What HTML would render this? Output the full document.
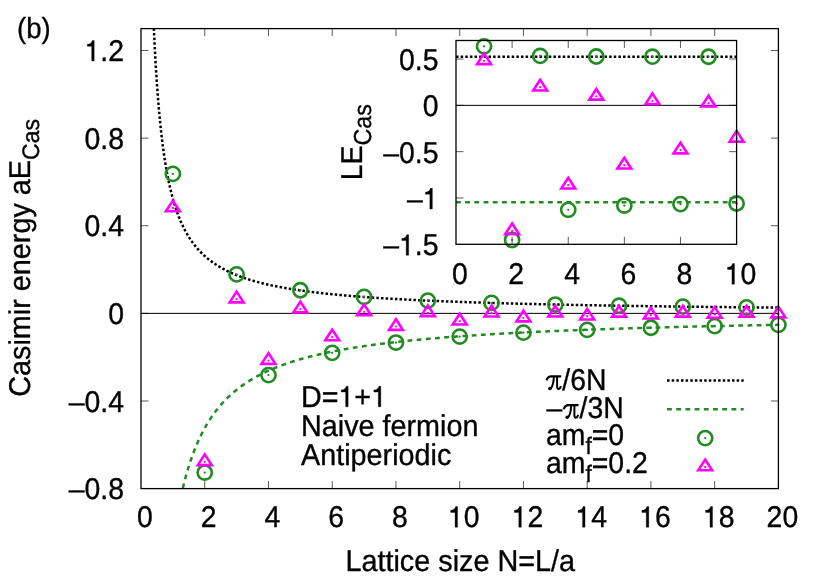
<!DOCTYPE html>
<html><head><meta charset="utf-8"><title>Casimir energy</title>
<style>
html,body{margin:0;padding:0;background:#fff;}
body{width:830px;height:581px;overflow:hidden;position:relative;font-family:"Liberation Sans",sans-serif;}
</style></head><body>
<svg width="830" height="581" viewBox="0 0 830 581" style="position:absolute;left:0;top:0">
<rect width="830" height="581" fill="#fff"/>
<defs>
<clipPath id="cm"><rect x="141.0" y="28.6" width="637.4" height="460.0"/></clipPath>
<clipPath id="ci"><rect x="456.0" y="40.5" width="280.6" height="203.8"/></clipPath>
</defs>
<path d="M204.74 488.6v-7.5M204.74 28.6v7.5M268.48 488.6v-7.5M268.48 28.6v7.5M332.22 488.6v-7.5M332.22 28.6v7.5M395.96 488.6v-7.5M395.96 28.6v7.5M459.70 488.6v-7.5M459.70 28.6v7.5M523.44 488.6v-7.5M523.44 28.6v7.5M587.18 488.6v-7.5M587.18 28.6v7.5M650.92 488.6v-7.5M650.92 28.6v7.5M714.66 488.6v-7.5M714.66 28.6v7.5M141.0 50.50h7.5M778.4 50.50h-7.5M141.0 138.12h7.5M778.4 138.12h-7.5M141.0 225.74h7.5M778.4 225.74h-7.5M141.0 313.36h7.5M778.4 313.36h-7.5M141.0 400.98h7.5M778.4 400.98h-7.5" stroke="#000" stroke-width="0.65" fill="none"/>
<path d="M141.0 313.36H778.4" stroke="#000" stroke-width="1.0" fill="none"/>
<g clip-path="url(#cm)">
<path d="M151.59 -31.87L152.64 -0.63L153.69 25.43L154.75 47.49L155.80 66.41L156.86 82.82L157.91 97.18L158.96 109.86L160.02 121.14L161.07 131.23L162.12 140.31L163.18 148.53L164.23 156.01L165.28 162.83L166.34 169.09L167.39 174.85L168.44 180.17L169.50 185.09L170.55 189.67L171.60 193.92L172.66 197.90L173.71 201.62L174.76 205.10L175.82 208.38L176.87 211.46L177.92 214.37L178.98 217.11L180.03 219.71L181.08 222.17L182.14 224.51L183.19 226.73L184.25 228.84L185.30 230.85L186.35 232.76L187.41 234.59L188.46 236.34L189.51 238.02L190.57 239.62L191.62 241.15L192.67 242.62L193.73 244.04L194.78 245.39L195.83 246.70L196.89 247.96L197.94 249.17L198.99 250.33L200.05 251.46L201.10 252.54L202.15 253.59L203.21 254.60L204.26 255.58L205.31 256.53L206.37 257.44L207.42 258.33L208.48 259.19L209.53 260.02L210.58 260.83L211.64 261.61L212.69 262.37L213.74 263.11L214.80 263.83L215.85 264.53L216.90 265.20L217.96 265.86L219.01 266.51L220.06 267.13L221.12 267.74L222.17 268.33L223.22 268.91L224.28 269.47L225.33 270.02L226.38 270.55L227.44 271.07L228.49 271.58L229.54 272.08L230.60 272.57L231.65 273.04L232.70 273.50L233.76 273.96L234.81 274.40L235.87 274.83L236.92 275.25L237.97 275.67L239.03 276.07L240.08 276.47L241.13 276.86L242.19 277.24L243.24 277.61L244.29 277.97L245.35 278.33L246.40 278.68L247.45 279.03L248.51 279.36L249.56 279.69L250.61 280.02L251.67 280.33L252.72 280.64L253.77 280.95L254.83 281.25L255.88 281.54L256.93 281.83L257.99 282.12L259.04 282.40L260.09 282.67L261.15 282.94L262.20 283.20L263.26 283.46L264.31 283.72L265.36 283.97L266.42 284.22L267.47 284.46L268.52 284.70L269.58 284.93L270.63 285.16L271.68 285.39L272.74 285.62L273.79 285.84L274.84 286.05L275.90 286.27L276.95 286.48L278.00 286.68L279.06 286.89L280.11 287.09L281.16 287.28L282.22 287.48L283.27 287.67L284.32 287.86L285.38 288.04L286.43 288.23L287.48 288.41L288.54 288.59L289.59 288.76L290.65 288.94L291.70 289.11L292.75 289.27L293.81 289.44L294.86 289.60L295.91 289.77L296.97 289.93L298.02 290.08L299.07 290.24L300.13 290.39L301.18 290.54L302.23 290.69L303.29 290.84L304.34 290.98L305.39 291.13L306.45 291.27L307.50 291.41L308.55 291.55L309.61 291.68L310.66 291.82L311.71 291.95L312.77 292.08L313.82 292.21L314.88 292.34L315.93 292.47L316.98 292.59L318.04 292.71L319.09 292.84L320.14 292.96L321.20 293.08L322.25 293.19L323.30 293.31L324.36 293.43L325.41 293.54L326.46 293.65L327.52 293.76L328.57 293.87L329.62 293.98L330.68 294.09L331.73 294.20L332.78 294.30L333.84 294.41L334.89 294.51L335.94 294.61L337.00 294.71L338.05 294.81L339.10 294.91L340.16 295.01L341.21 295.10L342.27 295.20L343.32 295.30L344.37 295.39L345.43 295.48L346.48 295.57L347.53 295.66L348.59 295.75L349.64 295.84L350.69 295.93L351.75 296.02L352.80 296.10L353.85 296.19L354.91 296.27L355.96 296.36L357.01 296.44L358.07 296.52L359.12 296.60L360.17 296.68L361.23 296.76L362.28 296.84L363.33 296.92L364.39 297.00L365.44 297.08L366.49 297.15L367.55 297.23L368.60 297.30L369.66 297.38L370.71 297.45L371.76 297.52L372.82 297.59L373.87 297.67L374.92 297.74L375.98 297.81L377.03 297.88L378.08 297.94L379.14 298.01L380.19 298.08L381.24 298.15L382.30 298.21L383.35 298.28L384.40 298.34L385.46 298.41L386.51 298.47L387.56 298.54L388.62 298.60L389.67 298.66L390.72 298.72L391.78 298.79L392.83 298.85L393.88 298.91L394.94 298.97L395.99 299.03L397.05 299.09L398.10 299.14L399.15 299.20L400.21 299.26L401.26 299.32L402.31 299.37L403.37 299.43L404.42 299.49L405.47 299.54L406.53 299.60L407.58 299.65L408.63 299.70L409.69 299.76L410.74 299.81L411.79 299.86L412.85 299.92L413.90 299.97L414.95 300.02L416.01 300.07L417.06 300.12L418.11 300.17L419.17 300.22L420.22 300.27L421.28 300.32L422.33 300.37L423.38 300.42L424.44 300.47L425.49 300.51L426.54 300.56L427.60 300.61L428.65 300.65L429.70 300.70L430.76 300.75L431.81 300.79L432.86 300.84L433.92 300.88L434.97 300.93L436.02 300.97L437.08 301.02L438.13 301.06L439.18 301.10L440.24 301.15L441.29 301.19L442.34 301.23L443.40 301.27L444.45 301.32L445.50 301.36L446.56 301.40L447.61 301.44L448.67 301.48L449.72 301.52L450.77 301.56L451.83 301.60L452.88 301.64L453.93 301.68L454.99 301.72L456.04 301.76L457.09 301.80L458.15 301.84L459.20 301.87L460.25 301.91L461.31 301.95L462.36 301.99L463.41 302.02L464.47 302.06L465.52 302.10L466.57 302.13L467.63 302.17L468.68 302.21L469.73 302.24L470.79 302.28L471.84 302.31L472.89 302.35L473.95 302.38L475.00 302.42L476.06 302.45L477.11 302.49L478.16 302.52L479.22 302.55L480.27 302.59L481.32 302.62L482.38 302.65L483.43 302.69L484.48 302.72L485.54 302.75L486.59 302.79L487.64 302.82L488.70 302.85L489.75 302.88L490.80 302.91L491.86 302.94L492.91 302.97L493.96 303.01L495.02 303.04L496.07 303.07L497.12 303.10L498.18 303.13L499.23 303.16L500.29 303.19L501.34 303.22L502.39 303.25L503.45 303.28L504.50 303.31L505.55 303.34L506.61 303.36L507.66 303.39L508.71 303.42L509.77 303.45L510.82 303.48L511.87 303.51L512.93 303.53L513.98 303.56L515.03 303.59L516.09 303.62L517.14 303.64L518.19 303.67L519.25 303.70L520.30 303.73L521.35 303.75L522.41 303.78L523.46 303.80L524.51 303.83L525.57 303.86L526.62 303.88L527.68 303.91L528.73 303.93L529.78 303.96L530.84 303.99L531.89 304.01L532.94 304.04L534.00 304.06L535.05 304.09L536.10 304.11L537.16 304.14L538.21 304.16L539.26 304.18L540.32 304.21L541.37 304.23L542.42 304.26L543.48 304.28L544.53 304.30L545.58 304.33L546.64 304.35L547.69 304.37L548.74 304.40L549.80 304.42L550.85 304.44L551.90 304.47L552.96 304.49L554.01 304.51L555.07 304.53L556.12 304.56L557.17 304.58L558.23 304.60L559.28 304.62L560.33 304.65L561.39 304.67L562.44 304.69L563.49 304.71L564.55 304.73L565.60 304.75L566.65 304.77L567.71 304.80L568.76 304.82L569.81 304.84L570.87 304.86L571.92 304.88L572.97 304.90L574.03 304.92L575.08 304.94L576.13 304.96L577.19 304.98L578.24 305.00L579.29 305.02L580.35 305.04L581.40 305.06L582.46 305.08L583.51 305.10L584.56 305.12L585.62 305.14L586.67 305.16L587.72 305.18L588.78 305.20L589.83 305.22L590.88 305.24L591.94 305.26L592.99 305.27L594.04 305.29L595.10 305.31L596.15 305.33L597.20 305.35L598.26 305.37L599.31 305.39L600.36 305.40L601.42 305.42L602.47 305.44L603.52 305.46L604.58 305.48L605.63 305.49L606.69 305.51L607.74 305.53L608.79 305.55L609.85 305.57L610.90 305.58L611.95 305.60L613.01 305.62L614.06 305.64L615.11 305.65L616.17 305.67L617.22 305.69L618.27 305.70L619.33 305.72L620.38 305.74L621.43 305.75L622.49 305.77L623.54 305.79L624.59 305.80L625.65 305.82L626.70 305.84L627.75 305.85L628.81 305.87L629.86 305.88L630.91 305.90L631.97 305.92L633.02 305.93L634.08 305.95L635.13 305.96L636.18 305.98L637.24 306.00L638.29 306.01L639.34 306.03L640.40 306.04L641.45 306.06L642.50 306.07L643.56 306.09L644.61 306.10L645.66 306.12L646.72 306.13L647.77 306.15L648.82 306.16L649.88 306.18L650.93 306.19L651.98 306.21L653.04 306.22L654.09 306.24L655.14 306.25L656.20 306.27L657.25 306.28L658.30 306.30L659.36 306.31L660.41 306.32L661.47 306.34L662.52 306.35L663.57 306.37L664.63 306.38L665.68 306.40L666.73 306.41L667.79 306.42L668.84 306.44L669.89 306.45L670.95 306.46L672.00 306.48L673.05 306.49L674.11 306.51L675.16 306.52L676.21 306.53L677.27 306.55L678.32 306.56L679.37 306.57L680.43 306.59L681.48 306.60L682.53 306.61L683.59 306.63L684.64 306.64L685.70 306.65L686.75 306.66L687.80 306.68L688.86 306.69L689.91 306.70L690.96 306.72L692.02 306.73L693.07 306.74L694.12 306.75L695.18 306.77L696.23 306.78L697.28 306.79L698.34 306.80L699.39 306.82L700.44 306.83L701.50 306.84L702.55 306.85L703.60 306.86L704.66 306.88L705.71 306.89L706.76 306.90L707.82 306.91L708.87 306.93L709.92 306.94L710.98 306.95L712.03 306.96L713.09 306.97L714.14 306.98L715.19 307.00L716.25 307.01L717.30 307.02L718.35 307.03L719.41 307.04L720.46 307.05L721.51 307.07L722.57 307.08L723.62 307.09L724.67 307.10L725.73 307.11L726.78 307.12L727.83 307.13L728.89 307.14L729.94 307.16L730.99 307.17L732.05 307.18L733.10 307.19L734.15 307.20L735.21 307.21L736.26 307.22L737.31 307.23L738.37 307.24L739.42 307.25L740.48 307.26L741.53 307.28L742.58 307.29L743.64 307.30L744.69 307.31L745.74 307.32L746.80 307.33L747.85 307.34L748.90 307.35L749.96 307.36L751.01 307.37L752.06 307.38L753.12 307.39L754.17 307.40L755.22 307.41L756.28 307.42L757.33 307.43L758.38 307.44L759.44 307.45L760.49 307.46L761.54 307.47L762.60 307.48L763.65 307.49L764.70 307.50L765.76 307.51L766.81 307.52L767.87 307.53L768.92 307.54L769.97 307.55L771.03 307.56L772.08 307.57L773.13 307.58L774.19 307.59L775.24 307.60L776.29 307.61L777.35 307.62L778.40 307.63" fill="none" stroke="#000" stroke-width="2.5" stroke-dasharray="2.5 2.14"/>
<path d="M169.50 569.90L170.55 560.76L171.60 552.24L172.66 544.29L173.71 536.85L174.76 529.88L175.82 523.33L176.87 517.16L177.92 511.35L178.98 505.86L180.03 500.66L181.08 495.74L182.14 491.07L183.19 486.63L184.25 482.41L185.30 478.39L186.35 474.56L187.41 470.90L188.46 467.40L189.51 464.06L190.57 460.85L191.62 457.78L192.67 454.84L193.73 452.01L194.78 449.30L195.83 446.68L196.89 444.17L197.94 441.75L198.99 439.42L200.05 437.17L201.10 435.00L202.15 432.90L203.21 430.88L204.26 428.92L205.31 427.03L206.37 425.20L207.42 423.42L208.48 421.71L209.53 420.04L210.58 418.43L211.64 416.86L212.69 415.34L213.74 413.86L214.80 412.43L215.85 411.03L216.90 409.68L217.96 408.36L219.01 407.08L220.06 405.83L221.12 404.61L222.17 403.43L223.22 402.27L224.28 401.15L225.33 400.05L226.38 398.98L227.44 397.94L228.49 396.92L229.54 395.93L230.60 394.95L231.65 394.01L232.70 393.08L233.76 392.17L234.81 391.29L235.87 390.42L236.92 389.58L237.97 388.75L239.03 387.94L240.08 387.15L241.13 386.37L242.19 385.61L243.24 384.87L244.29 384.14L245.35 383.42L246.40 382.72L247.45 382.04L248.51 381.36L249.56 380.70L250.61 380.06L251.67 379.42L252.72 378.80L253.77 378.19L254.83 377.59L255.88 377.00L256.93 376.42L257.99 375.85L259.04 375.29L260.09 374.75L261.15 374.21L262.20 373.68L263.26 373.16L264.31 372.65L265.36 372.15L266.42 371.65L267.47 371.17L268.52 370.69L269.58 370.22L270.63 369.76L271.68 369.30L272.74 368.86L273.79 368.42L274.84 367.98L275.90 367.56L276.95 367.14L278.00 366.72L279.06 366.31L280.11 365.91L281.16 365.52L282.22 365.13L283.27 364.75L284.32 364.37L285.38 364.00L286.43 363.63L287.48 363.27L288.54 362.91L289.59 362.56L290.65 362.21L291.70 361.87L292.75 361.54L293.81 361.20L294.86 360.88L295.91 360.55L296.97 360.23L298.02 359.92L299.07 359.61L300.13 359.30L301.18 359.00L302.23 358.70L303.29 358.41L304.34 358.12L305.39 357.83L306.45 357.55L307.50 357.27L308.55 356.99L309.61 356.72L310.66 356.45L311.71 356.19L312.77 355.92L313.82 355.66L314.88 355.41L315.93 355.15L316.98 354.90L318.04 354.66L319.09 354.41L320.14 354.17L321.20 353.93L322.25 353.70L323.30 353.46L324.36 353.23L325.41 353.00L326.46 352.78L327.52 352.56L328.57 352.34L329.62 352.12L330.68 351.90L331.73 351.69L332.78 351.48L333.84 351.27L334.89 351.07L335.94 350.86L337.00 350.66L338.05 350.46L339.10 350.26L340.16 350.07L341.21 349.88L342.27 349.68L343.32 349.50L344.37 349.31L345.43 349.12L346.48 348.94L347.53 348.76L348.59 348.58L349.64 348.40L350.69 348.22L351.75 348.05L352.80 347.88L353.85 347.71L354.91 347.54L355.96 347.37L357.01 347.20L358.07 347.04L359.12 346.88L360.17 346.72L361.23 346.56L362.28 346.40L363.33 346.24L364.39 346.09L365.44 345.93L366.49 345.78L367.55 345.63L368.60 345.48L369.66 345.33L370.71 345.19L371.76 345.04L372.82 344.90L373.87 344.76L374.92 344.61L375.98 344.47L377.03 344.33L378.08 344.20L379.14 344.06L380.19 343.93L381.24 343.79L382.30 343.66L383.35 343.53L384.40 343.40L385.46 343.27L386.51 343.14L387.56 343.01L388.62 342.89L389.67 342.76L390.72 342.64L391.78 342.51L392.83 342.39L393.88 342.27L394.94 342.15L395.99 342.03L397.05 341.91L398.10 341.80L399.15 341.68L400.21 341.57L401.26 341.45L402.31 341.34L403.37 341.23L404.42 341.11L405.47 341.00L406.53 340.89L407.58 340.79L408.63 340.68L409.69 340.57L410.74 340.46L411.79 340.36L412.85 340.25L413.90 340.15L414.95 340.05L416.01 339.94L417.06 339.84L418.11 339.74L419.17 339.64L420.22 339.54L421.28 339.45L422.33 339.35L423.38 339.25L424.44 339.15L425.49 339.06L426.54 338.96L427.60 338.87L428.65 338.78L429.70 338.68L430.76 338.59L431.81 338.50L432.86 338.41L433.92 338.32L434.97 338.23L436.02 338.14L437.08 338.05L438.13 337.97L439.18 337.88L440.24 337.79L441.29 337.71L442.34 337.62L443.40 337.54L444.45 337.45L445.50 337.37L446.56 337.29L447.61 337.20L448.67 337.12L449.72 337.04L450.77 336.96L451.83 336.88L452.88 336.80L453.93 336.72L454.99 336.64L456.04 336.57L457.09 336.49L458.15 336.41L459.20 336.34L460.25 336.26L461.31 336.19L462.36 336.11L463.41 336.04L464.47 335.96L465.52 335.89L466.57 335.82L467.63 335.74L468.68 335.67L469.73 335.60L470.79 335.53L471.84 335.46L472.89 335.39L473.95 335.32L475.00 335.25L476.06 335.18L477.11 335.11L478.16 335.04L479.22 334.98L480.27 334.91L481.32 334.84L482.38 334.78L483.43 334.71L484.48 334.65L485.54 334.58L486.59 334.52L487.64 334.45L488.70 334.39L489.75 334.32L490.80 334.26L491.86 334.20L492.91 334.14L493.96 334.07L495.02 334.01L496.07 333.95L497.12 333.89L498.18 333.83L499.23 333.77L500.29 333.71L501.34 333.65L502.39 333.59L503.45 333.53L504.50 333.47L505.55 333.42L506.61 333.36L507.66 333.30L508.71 333.24L509.77 333.19L510.82 333.13L511.87 333.07L512.93 333.02L513.98 332.96L515.03 332.91L516.09 332.85L517.14 332.80L518.19 332.74L519.25 332.69L520.30 332.64L521.35 332.58L522.41 332.53L523.46 332.48L524.51 332.42L525.57 332.37L526.62 332.32L527.68 332.27L528.73 332.22L529.78 332.17L530.84 332.11L531.89 332.06L532.94 332.01L534.00 331.96L535.05 331.91L536.10 331.86L537.16 331.82L538.21 331.77L539.26 331.72L540.32 331.67L541.37 331.62L542.42 331.57L543.48 331.53L544.53 331.48L545.58 331.43L546.64 331.38L547.69 331.34L548.74 331.29L549.80 331.24L550.85 331.20L551.90 331.15L552.96 331.11L554.01 331.06L555.07 331.02L556.12 330.97L557.17 330.93L558.23 330.88L559.28 330.84L560.33 330.80L561.39 330.75L562.44 330.71L563.49 330.67L564.55 330.62L565.60 330.58L566.65 330.54L567.71 330.49L568.76 330.45L569.81 330.41L570.87 330.37L571.92 330.33L572.97 330.29L574.03 330.24L575.08 330.20L576.13 330.16L577.19 330.12L578.24 330.08L579.29 330.04L580.35 330.00L581.40 329.96L582.46 329.92L583.51 329.88L584.56 329.84L585.62 329.80L586.67 329.77L587.72 329.73L588.78 329.69L589.83 329.65L590.88 329.61L591.94 329.57L592.99 329.54L594.04 329.50L595.10 329.46L596.15 329.42L597.20 329.39L598.26 329.35L599.31 329.31L600.36 329.28L601.42 329.24L602.47 329.20L603.52 329.17L604.58 329.13L605.63 329.10L606.69 329.06L607.74 329.02L608.79 328.99L609.85 328.95L610.90 328.92L611.95 328.88L613.01 328.85L614.06 328.82L615.11 328.78L616.17 328.75L617.22 328.71L618.27 328.68L619.33 328.65L620.38 328.61L621.43 328.58L622.49 328.55L623.54 328.51L624.59 328.48L625.65 328.45L626.70 328.41L627.75 328.38L628.81 328.35L629.86 328.32L630.91 328.28L631.97 328.25L633.02 328.22L634.08 328.19L635.13 328.16L636.18 328.13L637.24 328.09L638.29 328.06L639.34 328.03L640.40 328.00L641.45 327.97L642.50 327.94L643.56 327.91L644.61 327.88L645.66 327.85L646.72 327.82L647.77 327.79L648.82 327.76L649.88 327.73L650.93 327.70L651.98 327.67L653.04 327.64L654.09 327.61L655.14 327.58L656.20 327.55L657.25 327.52L658.30 327.49L659.36 327.47L660.41 327.44L661.47 327.41L662.52 327.38L663.57 327.35L664.63 327.32L665.68 327.30L666.73 327.27L667.79 327.24L668.84 327.21L669.89 327.18L670.95 327.16L672.00 327.13L673.05 327.10L674.11 327.07L675.16 327.05L676.21 327.02L677.27 326.99L678.32 326.97L679.37 326.94L680.43 326.91L681.48 326.89L682.53 326.86L683.59 326.84L684.64 326.81L685.70 326.78L686.75 326.76L687.80 326.73L688.86 326.71L689.91 326.68L690.96 326.65L692.02 326.63L693.07 326.60L694.12 326.58L695.18 326.55L696.23 326.53L697.28 326.50L698.34 326.48L699.39 326.45L700.44 326.43L701.50 326.40L702.55 326.38L703.60 326.36L704.66 326.33L705.71 326.31L706.76 326.28L707.82 326.26L708.87 326.24L709.92 326.21L710.98 326.19L712.03 326.16L713.09 326.14L714.14 326.12L715.19 326.09L716.25 326.07L717.30 326.05L718.35 326.02L719.41 326.00L720.46 325.98L721.51 325.96L722.57 325.93L723.62 325.91L724.67 325.89L725.73 325.86L726.78 325.84L727.83 325.82L728.89 325.80L729.94 325.77L730.99 325.75L732.05 325.73L733.10 325.71L734.15 325.69L735.21 325.66L736.26 325.64L737.31 325.62L738.37 325.60L739.42 325.58L740.48 325.56L741.53 325.54L742.58 325.51L743.64 325.49L744.69 325.47L745.74 325.45L746.80 325.43L747.85 325.41L748.90 325.39L749.96 325.37L751.01 325.35L752.06 325.33L753.12 325.30L754.17 325.28L755.22 325.26L756.28 325.24L757.33 325.22L758.38 325.20L759.44 325.18L760.49 325.16L761.54 325.14L762.60 325.12L763.65 325.10L764.70 325.08L765.76 325.06L766.81 325.04L767.87 325.02L768.92 325.00L769.97 324.98L771.03 324.97L772.08 324.95L773.13 324.93L774.19 324.91L775.24 324.89L776.29 324.87L777.35 324.85L778.40 324.83" fill="none" stroke="#228b22" stroke-width="2.5" stroke-dasharray="4.8 4.4"/>
</g>
<circle cx="172.87" cy="173.91" r="7.1" fill="none" stroke="#228b22" stroke-width="2.6"/><circle cx="172.87" cy="173.91" r="1.15" fill="#228b22"/>
<circle cx="204.74" cy="472.56" r="7.1" fill="none" stroke="#228b22" stroke-width="2.6"/><circle cx="204.74" cy="472.56" r="1.15" fill="#228b22"/>
<circle cx="236.61" cy="274.41" r="7.1" fill="none" stroke="#228b22" stroke-width="2.6"/><circle cx="236.61" cy="274.41" r="1.15" fill="#228b22"/>
<circle cx="268.48" cy="375.12" r="7.1" fill="none" stroke="#228b22" stroke-width="2.6"/><circle cx="268.48" cy="375.12" r="1.15" fill="#228b22"/>
<circle cx="300.35" cy="290.27" r="7.1" fill="none" stroke="#228b22" stroke-width="2.6"/><circle cx="300.35" cy="290.27" r="1.15" fill="#228b22"/>
<circle cx="332.22" cy="352.85" r="7.1" fill="none" stroke="#228b22" stroke-width="2.6"/><circle cx="332.22" cy="352.85" r="1.15" fill="#228b22"/>
<circle cx="364.09" cy="296.92" r="7.1" fill="none" stroke="#228b22" stroke-width="2.6"/><circle cx="364.09" cy="296.92" r="1.15" fill="#228b22"/>
<circle cx="395.96" cy="342.56" r="7.1" fill="none" stroke="#228b22" stroke-width="2.6"/><circle cx="395.96" cy="342.56" r="1.15" fill="#228b22"/>
<circle cx="427.83" cy="300.59" r="7.1" fill="none" stroke="#228b22" stroke-width="2.6"/><circle cx="427.83" cy="300.59" r="1.15" fill="#228b22"/>
<circle cx="459.70" cy="336.57" r="7.1" fill="none" stroke="#228b22" stroke-width="2.6"/><circle cx="459.70" cy="336.57" r="1.15" fill="#228b22"/>
<circle cx="491.57" cy="302.92" r="7.1" fill="none" stroke="#228b22" stroke-width="2.6"/><circle cx="491.57" cy="302.92" r="1.15" fill="#228b22"/>
<circle cx="523.44" cy="332.63" r="7.1" fill="none" stroke="#228b22" stroke-width="2.6"/><circle cx="523.44" cy="332.63" r="1.15" fill="#228b22"/>
<circle cx="555.31" cy="304.53" r="7.1" fill="none" stroke="#228b22" stroke-width="2.6"/><circle cx="555.31" cy="304.53" r="1.15" fill="#228b22"/>
<circle cx="587.18" cy="329.84" r="7.1" fill="none" stroke="#228b22" stroke-width="2.6"/><circle cx="587.18" cy="329.84" r="1.15" fill="#228b22"/>
<circle cx="619.05" cy="305.71" r="7.1" fill="none" stroke="#228b22" stroke-width="2.6"/><circle cx="619.05" cy="305.71" r="1.15" fill="#228b22"/>
<circle cx="650.92" cy="327.76" r="7.1" fill="none" stroke="#228b22" stroke-width="2.6"/><circle cx="650.92" cy="327.76" r="1.15" fill="#228b22"/>
<circle cx="682.79" cy="306.61" r="7.1" fill="none" stroke="#228b22" stroke-width="2.6"/><circle cx="682.79" cy="306.61" r="1.15" fill="#228b22"/>
<circle cx="714.66" cy="326.15" r="7.1" fill="none" stroke="#228b22" stroke-width="2.6"/><circle cx="714.66" cy="326.15" r="1.15" fill="#228b22"/>
<circle cx="746.53" cy="307.32" r="7.1" fill="none" stroke="#228b22" stroke-width="2.6"/><circle cx="746.53" cy="307.32" r="1.15" fill="#228b22"/>
<circle cx="778.40" cy="324.86" r="7.1" fill="none" stroke="#228b22" stroke-width="2.6"/><circle cx="778.40" cy="324.86" r="1.15" fill="#228b22"/>
<path d="M172.87 200.60L165.92 211.30L179.82 211.30Z" fill="none" stroke="#ff00ff" stroke-width="2.6" stroke-linejoin="miter"/><circle cx="172.87" cy="208.00" r="1.15" fill="#ff00ff"/>
<path d="M204.74 454.40L197.79 465.10L211.69 465.10Z" fill="none" stroke="#ff00ff" stroke-width="2.6" stroke-linejoin="miter"/><circle cx="204.74" cy="461.80" r="1.15" fill="#ff00ff"/>
<path d="M236.61 291.65L229.66 302.35L243.56 302.35Z" fill="none" stroke="#ff00ff" stroke-width="2.6" stroke-linejoin="miter"/><circle cx="236.61" cy="299.05" r="1.15" fill="#ff00ff"/>
<path d="M268.48 353.15L261.53 363.85L275.43 363.85Z" fill="none" stroke="#ff00ff" stroke-width="2.6" stroke-linejoin="miter"/><circle cx="268.48" cy="360.55" r="1.15" fill="#ff00ff"/>
<path d="M300.35 301.70L293.40 312.40L307.30 312.40Z" fill="none" stroke="#ff00ff" stroke-width="2.6" stroke-linejoin="miter"/><circle cx="300.35" cy="309.10" r="1.15" fill="#ff00ff"/>
<path d="M332.22 329.56L325.27 340.26L339.17 340.26Z" fill="none" stroke="#ff00ff" stroke-width="2.6" stroke-linejoin="miter"/><circle cx="332.22" cy="336.96" r="1.15" fill="#ff00ff"/>
<path d="M364.09 304.45L357.14 315.15L371.04 315.15Z" fill="none" stroke="#ff00ff" stroke-width="2.6" stroke-linejoin="miter"/><circle cx="364.09" cy="311.85" r="1.15" fill="#ff00ff"/>
<path d="M395.96 319.19L389.01 329.89L402.91 329.89Z" fill="none" stroke="#ff00ff" stroke-width="2.6" stroke-linejoin="miter"/><circle cx="395.96" cy="326.59" r="1.15" fill="#ff00ff"/>
<path d="M427.83 305.38L420.88 316.08L434.78 316.08Z" fill="none" stroke="#ff00ff" stroke-width="2.6" stroke-linejoin="miter"/><circle cx="427.83" cy="312.78" r="1.15" fill="#ff00ff"/>
<path d="M459.70 313.76L452.75 324.46L466.65 324.46Z" fill="none" stroke="#ff00ff" stroke-width="2.6" stroke-linejoin="miter"/><circle cx="459.70" cy="321.16" r="1.15" fill="#ff00ff"/>
<path d="M491.57 305.73L484.62 316.43L498.52 316.43Z" fill="none" stroke="#ff00ff" stroke-width="2.6" stroke-linejoin="miter"/><circle cx="491.57" cy="313.13" r="1.15" fill="#ff00ff"/>
<path d="M523.44 310.68L516.49 321.38L530.39 321.38Z" fill="none" stroke="#ff00ff" stroke-width="2.6" stroke-linejoin="miter"/><circle cx="523.44" cy="318.08" r="1.15" fill="#ff00ff"/>
<path d="M555.31 305.87L548.36 316.57L562.26 316.57Z" fill="none" stroke="#ff00ff" stroke-width="2.6" stroke-linejoin="miter"/><circle cx="555.31" cy="313.27" r="1.15" fill="#ff00ff"/>
<path d="M587.18 308.87L580.23 319.57L594.13 319.57Z" fill="none" stroke="#ff00ff" stroke-width="2.6" stroke-linejoin="miter"/><circle cx="587.18" cy="316.27" r="1.15" fill="#ff00ff"/>
<path d="M619.05 305.92L612.10 316.62L626.00 316.62Z" fill="none" stroke="#ff00ff" stroke-width="2.6" stroke-linejoin="miter"/><circle cx="619.05" cy="313.32" r="1.15" fill="#ff00ff"/>
<path d="M650.92 307.77L643.97 318.47L657.87 318.47Z" fill="none" stroke="#ff00ff" stroke-width="2.6" stroke-linejoin="miter"/><circle cx="650.92" cy="315.17" r="1.15" fill="#ff00ff"/>
<path d="M682.79 305.95L675.84 316.65L689.74 316.65Z" fill="none" stroke="#ff00ff" stroke-width="2.6" stroke-linejoin="miter"/><circle cx="682.79" cy="313.35" r="1.15" fill="#ff00ff"/>
<path d="M714.66 307.10L707.71 317.80L721.61 317.80Z" fill="none" stroke="#ff00ff" stroke-width="2.6" stroke-linejoin="miter"/><circle cx="714.66" cy="314.50" r="1.15" fill="#ff00ff"/>
<path d="M746.53 305.95L739.58 316.65L753.48 316.65Z" fill="none" stroke="#ff00ff" stroke-width="2.6" stroke-linejoin="miter"/><circle cx="746.53" cy="313.35" r="1.15" fill="#ff00ff"/>
<path d="M778.40 306.68L771.45 317.38L785.35 317.38Z" fill="none" stroke="#ff00ff" stroke-width="2.6" stroke-linejoin="miter"/><circle cx="778.40" cy="314.08" r="1.15" fill="#ff00ff"/>
<rect x="141.0" y="28.6" width="637.4" height="460.0" fill="none" stroke="#000" stroke-width="1.3"/>
<rect x="456.0" y="40.5" width="280.6" height="203.8" fill="#fff"/>
<path d="M512.12 244.3v-7.5M512.12 40.5v7.5M568.24 244.3v-7.5M568.24 40.5v7.5M624.36 244.3v-7.5M624.36 40.5v7.5M680.48 244.3v-7.5M680.48 40.5v7.5M456.0 59.03h7.5M736.6 59.03h-7.5M456.0 105.35h7.5M736.6 105.35h-7.5M456.0 151.66h7.5M736.6 151.66h-7.5M456.0 197.98h7.5M736.6 197.98h-7.5" stroke="#000" stroke-width="0.65" fill="none"/>
<path d="M456.0 105.35H736.6" stroke="#000" stroke-width="1.0" fill="none"/>
<path d="M456.0 56.84H736.6" fill="none" stroke="#000" stroke-width="2.5" stroke-dasharray="2.5 2.14"/>
<path d="M456.0 202.35H736.6" fill="none" stroke="#228b22" stroke-width="2.5" stroke-dasharray="4.8 4.4"/>
<circle cx="484.06" cy="46.37" r="7.1" fill="none" stroke="#228b22" stroke-width="2.6"/><circle cx="484.06" cy="46.37" r="1.15" fill="#228b22"/>
<circle cx="512.12" cy="239.99" r="7.1" fill="none" stroke="#228b22" stroke-width="2.6"/><circle cx="512.12" cy="239.99" r="1.15" fill="#228b22"/>
<circle cx="540.18" cy="55.93" r="7.1" fill="none" stroke="#228b22" stroke-width="2.6"/><circle cx="540.18" cy="55.93" r="1.15" fill="#228b22"/>
<circle cx="568.24" cy="209.82" r="7.1" fill="none" stroke="#228b22" stroke-width="2.6"/><circle cx="568.24" cy="209.82" r="1.15" fill="#228b22"/>
<circle cx="596.30" cy="56.52" r="7.1" fill="none" stroke="#228b22" stroke-width="2.6"/><circle cx="596.30" cy="56.52" r="1.15" fill="#228b22"/>
<circle cx="624.36" cy="205.55" r="7.1" fill="none" stroke="#228b22" stroke-width="2.6"/><circle cx="624.36" cy="205.55" r="1.15" fill="#228b22"/>
<circle cx="652.42" cy="56.68" r="7.1" fill="none" stroke="#228b22" stroke-width="2.6"/><circle cx="652.42" cy="56.68" r="1.15" fill="#228b22"/>
<circle cx="680.48" cy="204.13" r="7.1" fill="none" stroke="#228b22" stroke-width="2.6"/><circle cx="680.48" cy="204.13" r="1.15" fill="#228b22"/>
<circle cx="708.54" cy="56.74" r="7.1" fill="none" stroke="#228b22" stroke-width="2.6"/><circle cx="708.54" cy="56.74" r="1.15" fill="#228b22"/>
<circle cx="736.60" cy="203.48" r="7.1" fill="none" stroke="#228b22" stroke-width="2.6"/><circle cx="736.60" cy="203.48" r="1.15" fill="#228b22"/>
<path d="M484.06 53.39L477.11 64.09L491.01 64.09Z" fill="none" stroke="#ff00ff" stroke-width="2.6" stroke-linejoin="miter"/><circle cx="484.06" cy="60.79" r="1.15" fill="#ff00ff"/>
<path d="M512.12 223.49L505.17 234.19L519.07 234.19Z" fill="none" stroke="#ff00ff" stroke-width="2.6" stroke-linejoin="miter"/><circle cx="512.12" cy="230.89" r="1.15" fill="#ff00ff"/>
<path d="M540.18 79.79L533.23 90.49L547.13 90.49Z" fill="none" stroke="#ff00ff" stroke-width="2.6" stroke-linejoin="miter"/><circle cx="540.18" cy="87.19" r="1.15" fill="#ff00ff"/>
<path d="M568.24 177.77L561.29 188.47L575.19 188.47Z" fill="none" stroke="#ff00ff" stroke-width="2.6" stroke-linejoin="miter"/><circle cx="568.24" cy="185.17" r="1.15" fill="#ff00ff"/>
<path d="M596.30 88.93L589.35 99.63L603.25 99.63Z" fill="none" stroke="#ff00ff" stroke-width="2.6" stroke-linejoin="miter"/><circle cx="596.30" cy="96.33" r="1.15" fill="#ff00ff"/>
<path d="M624.36 157.83L617.41 168.53L631.31 168.53Z" fill="none" stroke="#ff00ff" stroke-width="2.6" stroke-linejoin="miter"/><circle cx="624.36" cy="165.23" r="1.15" fill="#ff00ff"/>
<path d="M652.42 93.46L645.47 104.16L659.37 104.16Z" fill="none" stroke="#ff00ff" stroke-width="2.6" stroke-linejoin="miter"/><circle cx="652.42" cy="100.86" r="1.15" fill="#ff00ff"/>
<path d="M680.48 142.70L673.53 153.40L687.43 153.40Z" fill="none" stroke="#ff00ff" stroke-width="2.6" stroke-linejoin="miter"/><circle cx="680.48" cy="150.10" r="1.15" fill="#ff00ff"/>
<path d="M708.54 95.73L701.59 106.43L715.49 106.43Z" fill="none" stroke="#ff00ff" stroke-width="2.6" stroke-linejoin="miter"/><circle cx="708.54" cy="103.13" r="1.15" fill="#ff00ff"/>
<path d="M736.60 130.91L729.65 141.61L743.55 141.61Z" fill="none" stroke="#ff00ff" stroke-width="2.6" stroke-linejoin="miter"/><circle cx="736.60" cy="138.31" r="1.15" fill="#ff00ff"/>
<rect x="456.0" y="40.5" width="280.6" height="203.8" fill="none" stroke="#000" stroke-width="1.3"/>
<path d="M667.05 380.5H743.7" fill="none" stroke="#000" stroke-width="2.5" stroke-dasharray="2.5 2.14"/>
<path d="M667.05 409.25H743.7" fill="none" stroke="#228b22" stroke-width="2.5" stroke-dasharray="4.8 4.4"/>
<circle cx="705.20" cy="438.10" r="7.1" fill="none" stroke="#228b22" stroke-width="2.6"/><circle cx="705.20" cy="438.10" r="1.15" fill="#228b22"/>
<path d="M705.20 459.60L698.25 470.30L712.15 470.30Z" fill="none" stroke="#ff00ff" stroke-width="2.6" stroke-linejoin="miter"/><circle cx="705.20" cy="467.00" r="1.15" fill="#ff00ff"/>
<g style="opacity:0.999;text-rendering:geometricPrecision">
<text transform="translate(17.00,38.30) scale(0.948,1)" font-family="Liberation Sans, sans-serif" font-size="29" text-anchor="start" fill="#000" stroke="#000" stroke-width="0.35" >(b)</text>
<g transform="translate(124.00,61.10) scale(0.9466,1)" fill="#000" stroke="#000" stroke-width="0.35"><path transform="translate(-41.70,0) scale(0.01465,-0.01465)" d="M515 0V1008H197V1150C400 1150 520 1250 562 1409H696V0Z" stroke-width="23.9"/><text x="-25.02" y="0" font-family="Liberation Sans, sans-serif" font-size="30.0" style="font-kerning:none">.2</text></g>
<text transform="translate(124.00,148.72) scale(0.9466,1)" font-family="Liberation Sans, sans-serif" font-size="30.0" text-anchor="end" fill="#000" stroke="#000" stroke-width="0.35" >0.8</text>
<text transform="translate(124.00,236.34) scale(0.9466,1)" font-family="Liberation Sans, sans-serif" font-size="30.0" text-anchor="end" fill="#000" stroke="#000" stroke-width="0.35" >0.4</text>
<text transform="translate(124.00,323.96) scale(0.9466,1)" font-family="Liberation Sans, sans-serif" font-size="30.0" text-anchor="end" fill="#000" stroke="#000" stroke-width="0.35" >0</text>
<text transform="translate(124.00,411.58) scale(0.9466,1)" font-family="Liberation Sans, sans-serif" font-size="30.0" text-anchor="end" fill="#000" stroke="#000" stroke-width="0.35" >–0.4</text>
<text transform="translate(124.00,499.20) scale(0.9466,1)" font-family="Liberation Sans, sans-serif" font-size="30.0" text-anchor="end" fill="#000" stroke="#000" stroke-width="0.35" >–0.8</text>
<text transform="translate(145.00,527.20) scale(0.9466,1)" font-family="Liberation Sans, sans-serif" font-size="30.0" text-anchor="middle" fill="#000" stroke="#000" stroke-width="0.35" >0</text>
<text transform="translate(208.74,527.20) scale(0.9466,1)" font-family="Liberation Sans, sans-serif" font-size="30.0" text-anchor="middle" fill="#000" stroke="#000" stroke-width="0.35" >2</text>
<text transform="translate(272.48,527.20) scale(0.9466,1)" font-family="Liberation Sans, sans-serif" font-size="30.0" text-anchor="middle" fill="#000" stroke="#000" stroke-width="0.35" >4</text>
<text transform="translate(336.22,527.20) scale(0.9466,1)" font-family="Liberation Sans, sans-serif" font-size="30.0" text-anchor="middle" fill="#000" stroke="#000" stroke-width="0.35" >6</text>
<text transform="translate(399.96,527.20) scale(0.9466,1)" font-family="Liberation Sans, sans-serif" font-size="30.0" text-anchor="middle" fill="#000" stroke="#000" stroke-width="0.35" >8</text>
<g transform="translate(463.70,527.20) scale(0.9466,1)" fill="#000" stroke="#000" stroke-width="0.35"><path transform="translate(-16.68,0) scale(0.01465,-0.01465)" d="M515 0V1008H197V1150C400 1150 520 1250 562 1409H696V0Z" stroke-width="23.9"/><text x="0.00" y="0" font-family="Liberation Sans, sans-serif" font-size="30.0" style="font-kerning:none">0</text></g>
<g transform="translate(527.44,527.20) scale(0.9466,1)" fill="#000" stroke="#000" stroke-width="0.35"><path transform="translate(-16.68,0) scale(0.01465,-0.01465)" d="M515 0V1008H197V1150C400 1150 520 1250 562 1409H696V0Z" stroke-width="23.9"/><text x="0.00" y="0" font-family="Liberation Sans, sans-serif" font-size="30.0" style="font-kerning:none">2</text></g>
<g transform="translate(591.18,527.20) scale(0.9466,1)" fill="#000" stroke="#000" stroke-width="0.35"><path transform="translate(-16.68,0) scale(0.01465,-0.01465)" d="M515 0V1008H197V1150C400 1150 520 1250 562 1409H696V0Z" stroke-width="23.9"/><text x="0.00" y="0" font-family="Liberation Sans, sans-serif" font-size="30.0" style="font-kerning:none">4</text></g>
<g transform="translate(654.92,527.20) scale(0.9466,1)" fill="#000" stroke="#000" stroke-width="0.35"><path transform="translate(-16.68,0) scale(0.01465,-0.01465)" d="M515 0V1008H197V1150C400 1150 520 1250 562 1409H696V0Z" stroke-width="23.9"/><text x="0.00" y="0" font-family="Liberation Sans, sans-serif" font-size="30.0" style="font-kerning:none">6</text></g>
<g transform="translate(718.66,527.20) scale(0.9466,1)" fill="#000" stroke="#000" stroke-width="0.35"><path transform="translate(-16.68,0) scale(0.01465,-0.01465)" d="M515 0V1008H197V1150C400 1150 520 1250 562 1409H696V0Z" stroke-width="23.9"/><text x="0.00" y="0" font-family="Liberation Sans, sans-serif" font-size="30.0" style="font-kerning:none">8</text></g>
<text transform="translate(782.40,527.20) scale(0.9466,1)" font-family="Liberation Sans, sans-serif" font-size="30.0" text-anchor="middle" fill="#000" stroke="#000" stroke-width="0.35" >20</text>
<text transform="translate(460.25,570.70) scale(0.96,1)" font-family="Liberation Sans, sans-serif" font-size="30.0" text-anchor="middle" fill="#000" stroke="#000" stroke-width="0.35" >Lattice size N=L/a</text>
<text transform="translate(29.70,257.90) rotate(-90) scale(0.96,1)" font-family="Liberation Sans, sans-serif" font-size="30.0" text-anchor="middle" fill="#000" stroke="#000" stroke-width="0.35">Casimir energy aE<tspan font-size="24.0" dy="9.0">Cas</tspan></text>
<text transform="translate(460.00,284.20) scale(0.9466,1)" font-family="Liberation Sans, sans-serif" font-size="30.0" text-anchor="middle" fill="#000" stroke="#000" stroke-width="0.35" >0</text>
<text transform="translate(516.12,284.20) scale(0.9466,1)" font-family="Liberation Sans, sans-serif" font-size="30.0" text-anchor="middle" fill="#000" stroke="#000" stroke-width="0.35" >2</text>
<text transform="translate(572.24,284.20) scale(0.9466,1)" font-family="Liberation Sans, sans-serif" font-size="30.0" text-anchor="middle" fill="#000" stroke="#000" stroke-width="0.35" >4</text>
<text transform="translate(628.36,284.20) scale(0.9466,1)" font-family="Liberation Sans, sans-serif" font-size="30.0" text-anchor="middle" fill="#000" stroke="#000" stroke-width="0.35" >6</text>
<text transform="translate(684.48,284.20) scale(0.9466,1)" font-family="Liberation Sans, sans-serif" font-size="30.0" text-anchor="middle" fill="#000" stroke="#000" stroke-width="0.35" >8</text>
<g transform="translate(740.60,284.20) scale(0.9466,1)" fill="#000" stroke="#000" stroke-width="0.35"><path transform="translate(-16.68,0) scale(0.01465,-0.01465)" d="M515 0V1008H197V1150C400 1150 520 1250 562 1409H696V0Z" stroke-width="23.9"/><text x="0.00" y="0" font-family="Liberation Sans, sans-serif" font-size="30.0" style="font-kerning:none">0</text></g>
<text transform="translate(438.50,70.03) scale(0.9466,1)" font-family="Liberation Sans, sans-serif" font-size="30.0" text-anchor="end" fill="#000" stroke="#000" stroke-width="0.35" >0.5</text>
<text transform="translate(438.50,116.35) scale(0.9466,1)" font-family="Liberation Sans, sans-serif" font-size="30.0" text-anchor="end" fill="#000" stroke="#000" stroke-width="0.35" >0</text>
<text transform="translate(438.50,162.66) scale(0.9466,1)" font-family="Liberation Sans, sans-serif" font-size="30.0" text-anchor="end" fill="#000" stroke="#000" stroke-width="0.35" >–0.5</text>
<g transform="translate(438.50,208.98) scale(0.9466,1)" fill="#000" stroke="#000" stroke-width="0.35"><text x="-33.37" y="0" font-family="Liberation Sans, sans-serif" font-size="30.0" style="font-kerning:none">–</text><path transform="translate(-16.68,0) scale(0.01465,-0.01465)" d="M515 0V1008H197V1150C400 1150 520 1250 562 1409H696V0Z" stroke-width="23.9"/></g>
<g transform="translate(438.50,255.30) scale(0.9466,1)" fill="#000" stroke="#000" stroke-width="0.35"><text x="-58.39" y="0" font-family="Liberation Sans, sans-serif" font-size="30.0" style="font-kerning:none">–</text><path transform="translate(-41.70,0) scale(0.01465,-0.01465)" d="M515 0V1008H197V1150C400 1150 520 1250 562 1409H696V0Z" stroke-width="23.9"/><text x="-25.02" y="0" font-family="Liberation Sans, sans-serif" font-size="30.0" style="font-kerning:none">.5</text></g>
<text transform="translate(361.60,142.20) rotate(-90) scale(0.9466,1)" font-family="Liberation Sans, sans-serif" font-size="30.0" text-anchor="middle" fill="#000" stroke="#000" stroke-width="0.35">LE<tspan font-size="24.6" dy="9.0">Cas</tspan></text>
<g transform="translate(301.00,406.80) scale(0.955,1)" fill="#000" stroke="#000" stroke-width="0.35"><text x="0.00" y="0" font-family="Liberation Sans, sans-serif" font-size="30.0" style="font-kerning:none">D=</text><path transform="translate(39.18,0) scale(0.01465,-0.01465)" d="M515 0V1008H197V1150C400 1150 520 1250 562 1409H696V0Z" stroke-width="23.9"/><text x="55.87" y="0" font-family="Liberation Sans, sans-serif" font-size="30.0" style="font-kerning:none">+</text><path transform="translate(73.39,0) scale(0.01465,-0.01465)" d="M515 0V1008H197V1150C400 1150 520 1250 562 1409H696V0Z" stroke-width="23.9"/></g>
<text transform="translate(301.00,435.70) scale(0.959,1)" font-family="Liberation Sans, sans-serif" font-size="30.0" text-anchor="start" fill="#000" stroke="#000" stroke-width="0.35" >Naive fermion</text>
<text transform="translate(301.00,464.80) scale(0.959,1)" font-family="Liberation Sans, sans-serif" font-size="30.0" text-anchor="start" fill="#000" stroke="#000" stroke-width="0.35" >Antiperiodic</text>
<g transform="translate(546.00,390.30)" fill="none" stroke="#000" stroke-linecap="butt"><path d="M0.5 -9.9C1.4 -12.9 2.8 -13.9 5.2 -13.9H15.2" stroke-width="2.2"/><path d="M7.9 -13.9C7.7 -8.5 7.0 -4.2 4.6 -1.6" stroke-width="2.0"/><circle cx="3.9" cy="-1.9" r="1.75" fill="#000" stroke="none"/><path d="M11.1 -13.9V-4.0C11.1 -0.6 13.4 -0.2 15.0 -4.2" stroke-width="2.0"/></g>
<text transform="translate(562.30,389.50) scale(0.9466,1)" font-family="Liberation Sans, sans-serif" font-size="30.0" text-anchor="start" fill="#000" stroke="#000" stroke-width="0.35" >/6N</text>
<text transform="translate(546.60,418.30) scale(0.9466,1)" font-family="Liberation Sans, sans-serif" font-size="30.0" text-anchor="start" fill="#000" stroke="#000" stroke-width="0.35" >–</text>
<g transform="translate(563.29,419.10)" fill="none" stroke="#000" stroke-linecap="butt"><path d="M0.5 -9.9C1.4 -12.9 2.8 -13.9 5.2 -13.9H15.2" stroke-width="2.2"/><path d="M7.9 -13.9C7.7 -8.5 7.0 -4.2 4.6 -1.6" stroke-width="2.0"/><circle cx="3.9" cy="-1.9" r="1.75" fill="#000" stroke="none"/><path d="M11.1 -13.9V-4.0C11.1 -0.6 13.4 -0.2 15.0 -4.2" stroke-width="2.0"/></g>
<text transform="translate(579.59,418.30) scale(0.9466,1)" font-family="Liberation Sans, sans-serif" font-size="30.0" text-anchor="start" fill="#000" stroke="#000" stroke-width="0.35" >/3N</text>
<text transform="translate(546.00,444.60) scale(0.9466,1)" font-family="Liberation Sans, sans-serif" font-size="30.0" text-anchor="start" fill="#000" stroke="#000" stroke-width="0.35" >am<tspan font-size="24.0" dy="9.0">f</tspan><tspan dy="-9.0">=0</tspan></text>
<text transform="translate(546.00,472.80) scale(0.9466,1)" font-family="Liberation Sans, sans-serif" font-size="30.0" text-anchor="start" fill="#000" stroke="#000" stroke-width="0.35" >am<tspan font-size="24.0" dy="9.0">f</tspan><tspan dy="-9.0">=0.2</tspan></text>
</g>
</svg>
</body></html>
